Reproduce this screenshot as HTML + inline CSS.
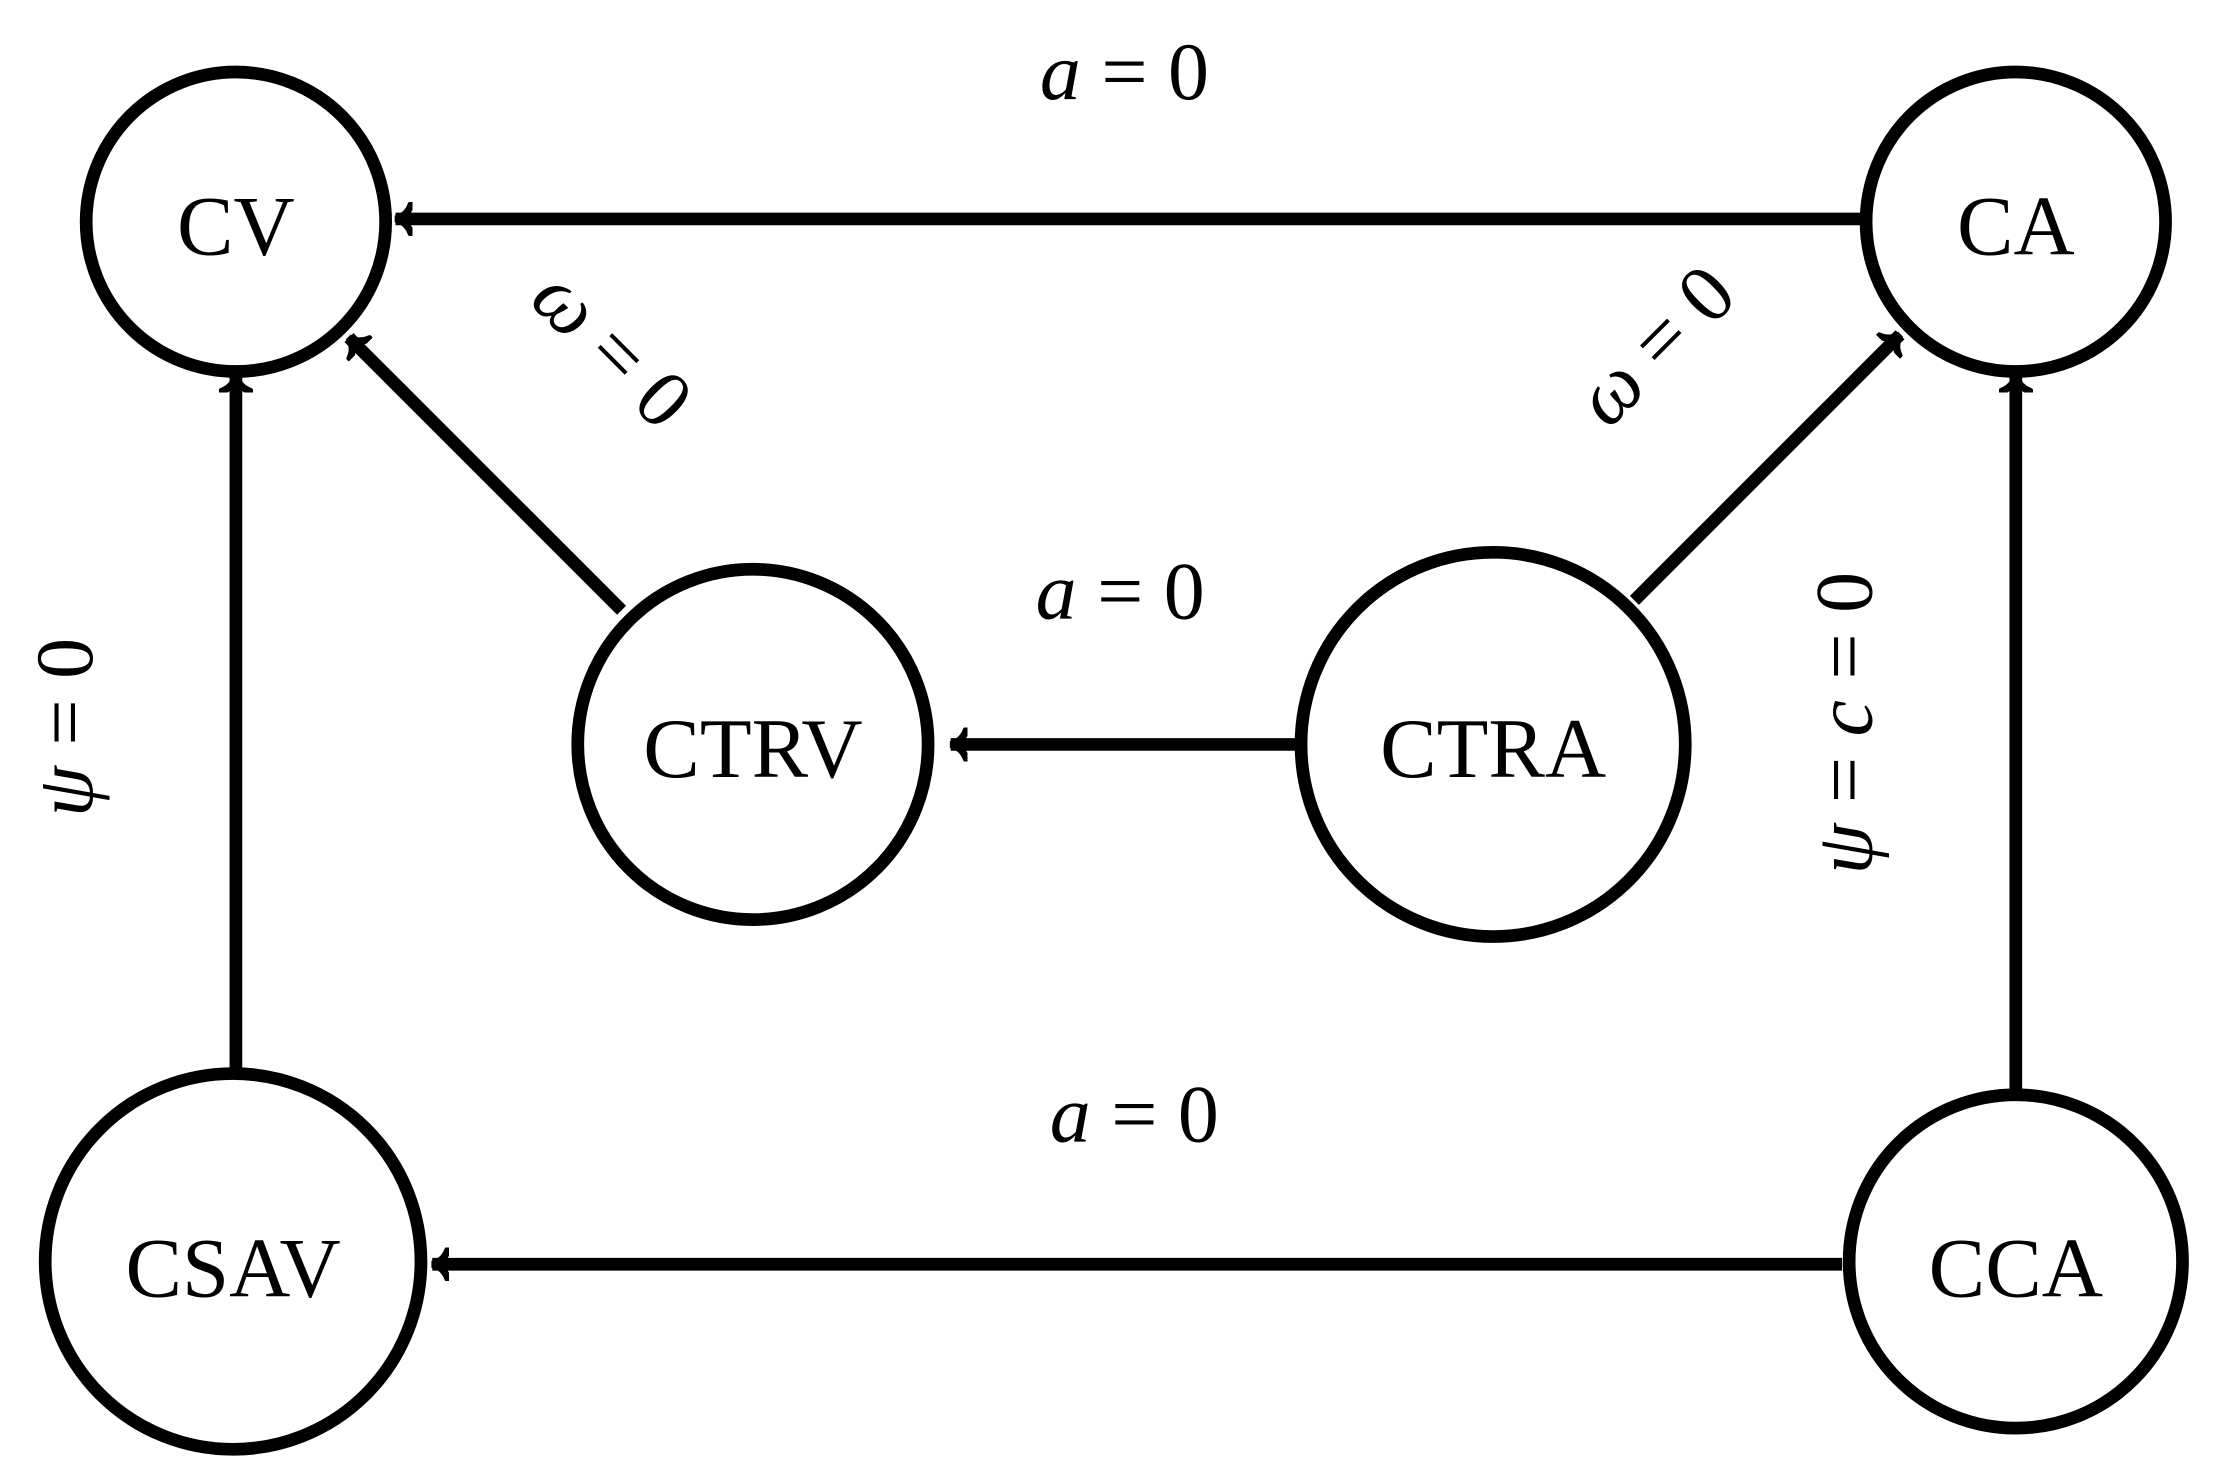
<!DOCTYPE html>
<html><head><meta charset="utf-8"><style>html,body{margin:0;padding:0;background:#fff}svg{display:block}</style></head>
<body>
<svg width="2215" height="1477" viewBox="0 0 1568 1045.6" preserveAspectRatio="none" xmlns="http://www.w3.org/2000/svg">
<defs>
<marker id="ah" viewBox="-12 -12 24 24" markerWidth="24" markerHeight="24" refX="0" refY="0" orient="auto" markerUnits="userSpaceOnUse">
<path d="M-11,-10 Q-8,-2 0,0 Q-8,2 -11,10" fill="none" stroke="#000" stroke-width="5" stroke-linecap="round"/>
</marker>
</defs>
<g fill="none" stroke="#000" stroke-width="9">
<circle cx="167" cy="157" r="106"/>
<circle cx="1427" cy="157" r="106"/>
<circle cx="533" cy="527" r="124"/>
<circle cx="1057" cy="527" r="136"/>
<circle cx="165" cy="893" r="133"/>
<circle cx="1427" cy="893" r="118"/>
</g>
<g stroke="#000" stroke-width="9" fill="none" marker-end="url(#ah)">
<line x1="1318" y1="155" x2="280" y2="155"/>
<line x1="1304" y1="895" x2="306" y2="895"/>
<line x1="918" y1="527" x2="673" y2="527"/>
<line x1="167" y1="760" x2="167" y2="266"/>
<line x1="1427" y1="775" x2="1427" y2="266"/>
<line x1="440" y1="432" x2="247" y2="239"/>
<line x1="1157" y1="425" x2="1345" y2="237"/>
</g>
<g font-family="Liberation Serif, serif" font-size="60" fill="#000" text-anchor="middle">
<text x="167" y="180">CV</text>
<text x="1427" y="180">CA</text>
<text x="533" y="550">CTRV</text>
<text x="1057" y="550">CTRA</text>
<text x="165" y="918">CSAV</text>
<text x="1427" y="918">CCA</text>
</g>
<g font-family="Liberation Serif, serif" font-size="58" fill="#000" text-anchor="middle">
<text x="796" y="70"><tspan font-style="italic">a</tspan> = 0</text>
<text x="793" y="438"><tspan font-style="italic">a</tspan> = 0</text>
<text x="803" y="808"><tspan font-style="italic">a</tspan> = 0</text>
<text transform="translate(420,260) rotate(45)"><tspan font-style="italic">ω</tspan> = 0</text>
<text transform="translate(1185,258) rotate(-45)"><tspan font-style="italic">ω</tspan> = 0</text>
<text transform="translate(65,515) rotate(-90)"><tspan font-style="italic">ψ</tspan> = 0</text>
<text transform="translate(1325,512) rotate(-90)"><tspan font-style="italic">ψ</tspan> = <tspan font-style="italic">c</tspan> = 0</text>
</g>
</svg>
</body></html>
